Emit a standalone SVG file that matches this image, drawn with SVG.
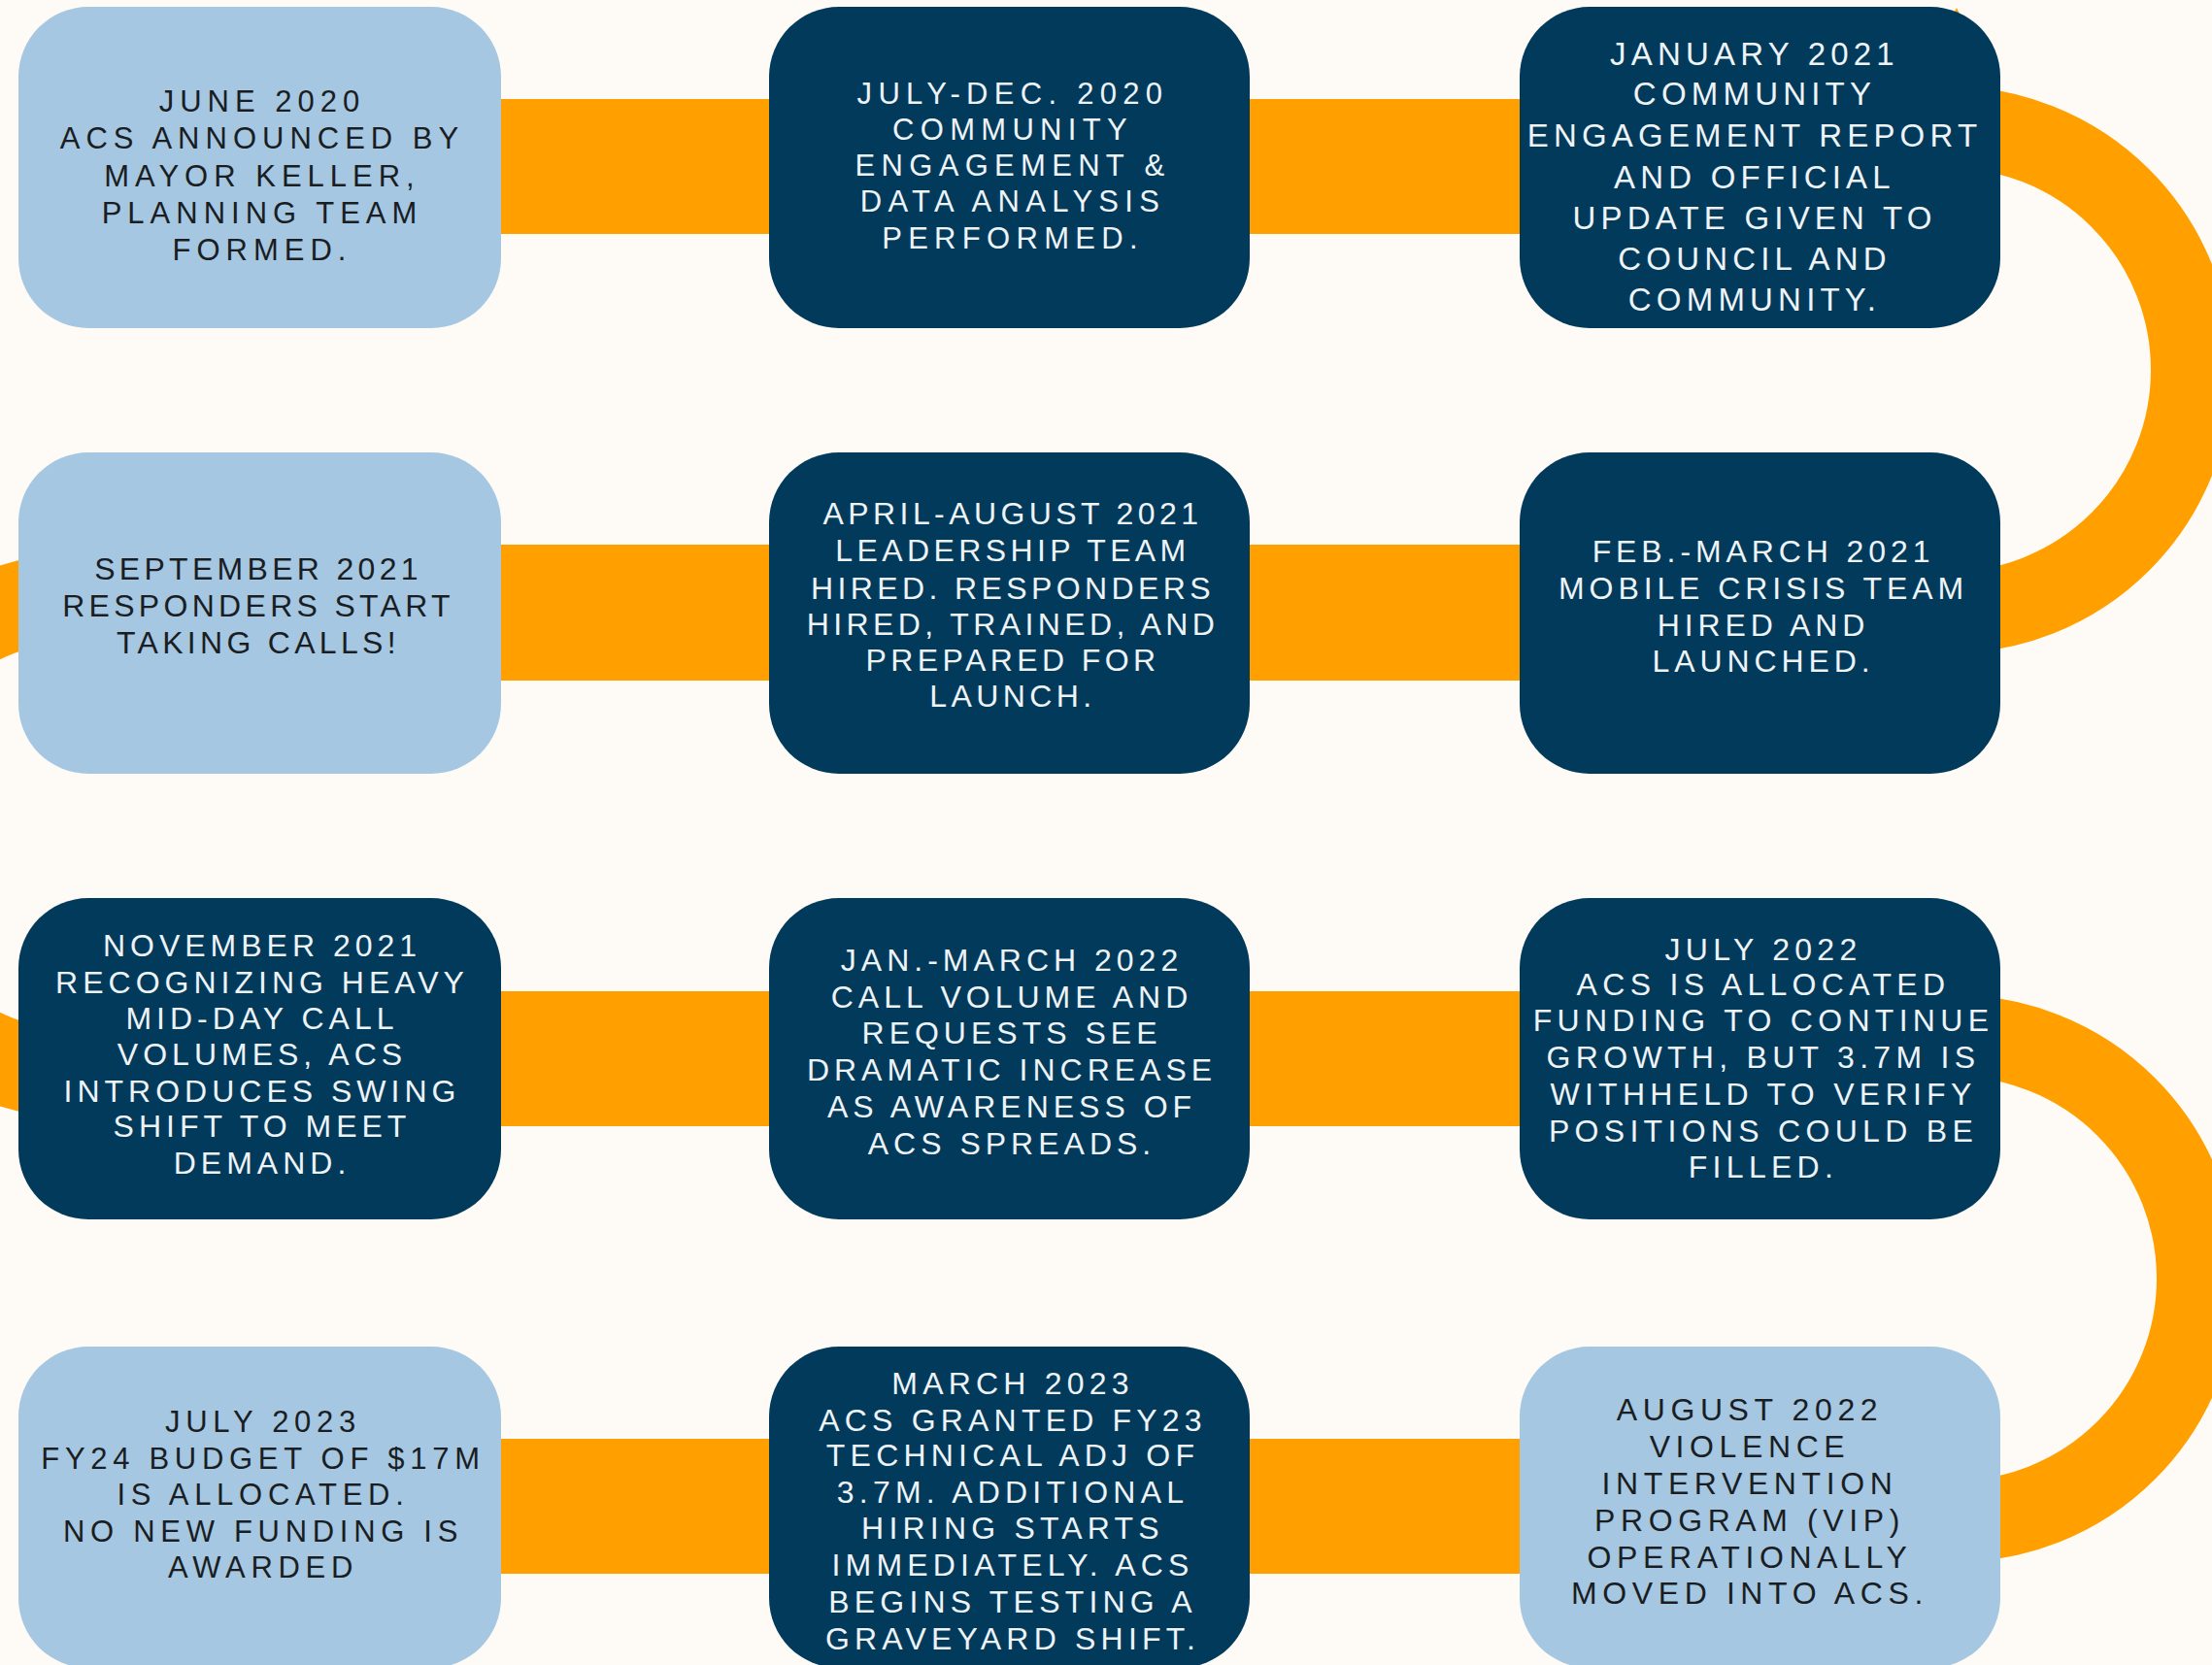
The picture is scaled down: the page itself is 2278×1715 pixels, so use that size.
<svg xmlns="http://www.w3.org/2000/svg" width="2278" height="1715" viewBox="0 0 2278 1715">
<style>
.bg{fill:#FEFBF6}
.bar{fill:#FFA000}
.arc{fill:none;stroke:#FFA000}
.light{fill:#A5C7E2}
.dark{fill:#023A5C}
text{font-family:"Liberation Sans",Arial,sans-serif;text-anchor:middle}
.lt{fill:#1A1E22}
.dt{fill:#EEF3F6}
</style>
<rect class="bg" x="0" y="0" width="2278" height="1715"/>
<g id="connectors">
<rect class="bar" x="300" y="102" width="1500" height="139"/>
<rect class="bar" x="300" y="561" width="1500" height="140"/>
<rect class="bar" x="300" y="1021" width="1500" height="139"/>
<rect class="bar" x="300" y="1482" width="1500" height="139"/>
<path class="arc" stroke-width="84" d="M2007,131 A250,250 0 0 1 2007,631"/>
<path class="arc" stroke-width="90" d="M88,614 A247,247 0 0 0 88,1108"/>
<path class="arc" stroke-width="84" d="M2013,1067 A250,250 0 0 1 2013,1567"/>
<polygon class="bar" points="2010,17 2015,8 2019,16"/>
</g>
<g id="n1">
<rect class="light" x="19" y="7" width="497" height="331" rx="72"/>
<g class="lt" font-size="31" letter-spacing="6">
<text x="270" y="115">JUNE 2020</text>
<text x="270" y="153">ACS ANNOUNCED BY</text>
<text x="270" y="192">MAYOR KELLER,</text>
<text x="270" y="230">PLANNING TEAM</text>
<text x="270" y="268">FORMED.</text>
</g>
</g>
<g id="n2">
<rect class="dark" x="792" y="7" width="495" height="331" rx="72"/>
<g class="dt" font-size="31" letter-spacing="6.3">
<text x="1043" y="107">JULY-DEC. 2020</text>
<text x="1043" y="144">COMMUNITY</text>
<text x="1043" y="181">ENGAGEMENT &amp;</text>
<text x="1043" y="218">DATA ANALYSIS</text>
<text x="1043" y="256">PERFORMED.</text>
</g>
</g>
<g id="n3">
<rect class="dark" x="1565" y="7" width="495" height="331" rx="72"/>
<g class="dt" font-size="33" letter-spacing="5.2">
<text x="1807" y="67">JANUARY 2021</text>
<text x="1807" y="108">COMMUNITY</text>
<text x="1807" y="151">ENGAGEMENT REPORT</text>
<text x="1807" y="194">AND OFFICIAL</text>
<text x="1807" y="236">UPDATE GIVEN TO</text>
<text x="1807" y="278">COUNCIL AND</text>
<text x="1807" y="320">COMMUNITY.</text>
</g>
</g>
<g id="n4">
<rect class="light" x="19" y="466" width="497" height="331" rx="72"/>
<g class="lt" font-size="32" letter-spacing="4.3">
<text x="266" y="597">SEPTEMBER 2021</text>
<text x="266" y="635">RESPONDERS START</text>
<text x="266" y="673">TAKING CALLS!</text>
</g>
</g>
<g id="n5">
<rect class="dark" x="792" y="466" width="495" height="331" rx="72"/>
<g class="dt" font-size="32" letter-spacing="4.4">
<text x="1043" y="540">APRIL-AUGUST 2021</text>
<text x="1043" y="578">LEADERSHIP TEAM</text>
<text x="1043" y="617">HIRED. RESPONDERS</text>
<text x="1043" y="654">HIRED, TRAINED, AND</text>
<text x="1043" y="691">PREPARED FOR</text>
<text x="1043" y="728">LAUNCH.</text>
</g>
</g>
<g id="n6">
<rect class="dark" x="1565" y="466" width="495" height="331" rx="72"/>
<g class="dt" font-size="32" letter-spacing="4.9">
<text x="1816" y="579">FEB.-MARCH 2021</text>
<text x="1816" y="617">MOBILE CRISIS TEAM</text>
<text x="1816" y="655">HIRED AND</text>
<text x="1816" y="692">LAUNCHED.</text>
</g>
</g>
<g id="n7">
<rect class="dark" x="19" y="925" width="497" height="331" rx="72"/>
<g class="dt" font-size="32" letter-spacing="5">
<text x="270" y="985">NOVEMBER 2021</text>
<text x="270" y="1023">RECOGNIZING HEAVY</text>
<text x="270" y="1060">MID-DAY CALL</text>
<text x="270" y="1097">VOLUMES, ACS</text>
<text x="270" y="1135">INTRODUCES SWING</text>
<text x="270" y="1171">SHIFT TO MEET</text>
<text x="270" y="1209">DEMAND.</text>
</g>
</g>
<g id="n8">
<rect class="dark" x="792" y="925" width="495" height="331" rx="72"/>
<g class="dt" font-size="32" letter-spacing="5">
<text x="1042" y="1000">JAN.-MARCH 2022</text>
<text x="1042" y="1038">CALL VOLUME AND</text>
<text x="1042" y="1075">REQUESTS SEE</text>
<text x="1042" y="1113">DRAMATIC INCREASE</text>
<text x="1042" y="1151">AS AWARENESS OF</text>
<text x="1042" y="1189">ACS SPREADS.</text>
</g>
</g>
<g id="n9">
<rect class="dark" x="1565" y="925" width="495" height="331" rx="72"/>
<g class="dt" font-size="32" letter-spacing="5.3">
<text x="1816" y="989">JULY 2022</text>
<text x="1816" y="1025">ACS IS ALLOCATED</text>
<text x="1816" y="1062">FUNDING TO CONTINUE</text>
<text x="1816" y="1100">GROWTH, BUT 3.7M IS</text>
<text x="1816" y="1138">WITHHELD TO VERIFY</text>
<text x="1816" y="1176">POSITIONS COULD BE</text>
<text x="1816" y="1213">FILLED.</text>
</g>
</g>
<g id="n10">
<rect class="light" x="19" y="1387" width="497" height="331" rx="72"/>
<g class="lt" font-size="31" letter-spacing="5.7">
<text x="271" y="1475">JULY 2023</text>
<text x="271" y="1513">FY24 BUDGET OF $17M</text>
<text x="271" y="1550">IS ALLOCATED.</text>
<text x="271" y="1588">NO NEW FUNDING IS</text>
<text x="271" y="1625">AWARDED</text>
</g>
</g>
<g id="n11">
<rect class="dark" x="792" y="1387" width="495" height="331" rx="72"/>
<g class="dt" font-size="32" letter-spacing="5.2">
<text x="1043" y="1436">MARCH 2023</text>
<text x="1043" y="1474">ACS GRANTED FY23</text>
<text x="1043" y="1510">TECHNICAL ADJ OF</text>
<text x="1043" y="1548">3.7M. ADDITIONAL</text>
<text x="1043" y="1585">HIRING STARTS</text>
<text x="1043" y="1623">IMMEDIATELY. ACS</text>
<text x="1043" y="1661">BEGINS TESTING A</text>
<text x="1043" y="1699">GRAVEYARD SHIFT.</text>
</g>
</g>
<g id="n12">
<rect class="light" x="1565" y="1387" width="495" height="331" rx="72"/>
<g class="lt" font-size="32" letter-spacing="5.6">
<text x="1802" y="1463">AUGUST 2022</text>
<text x="1802" y="1501">VIOLENCE</text>
<text x="1802" y="1539">INTERVENTION</text>
<text x="1802" y="1577">PROGRAM (VIP)</text>
<text x="1802" y="1615">OPERATIONALLY</text>
<text x="1802" y="1652">MOVED INTO ACS.</text>
</g>
</g>
</svg>
